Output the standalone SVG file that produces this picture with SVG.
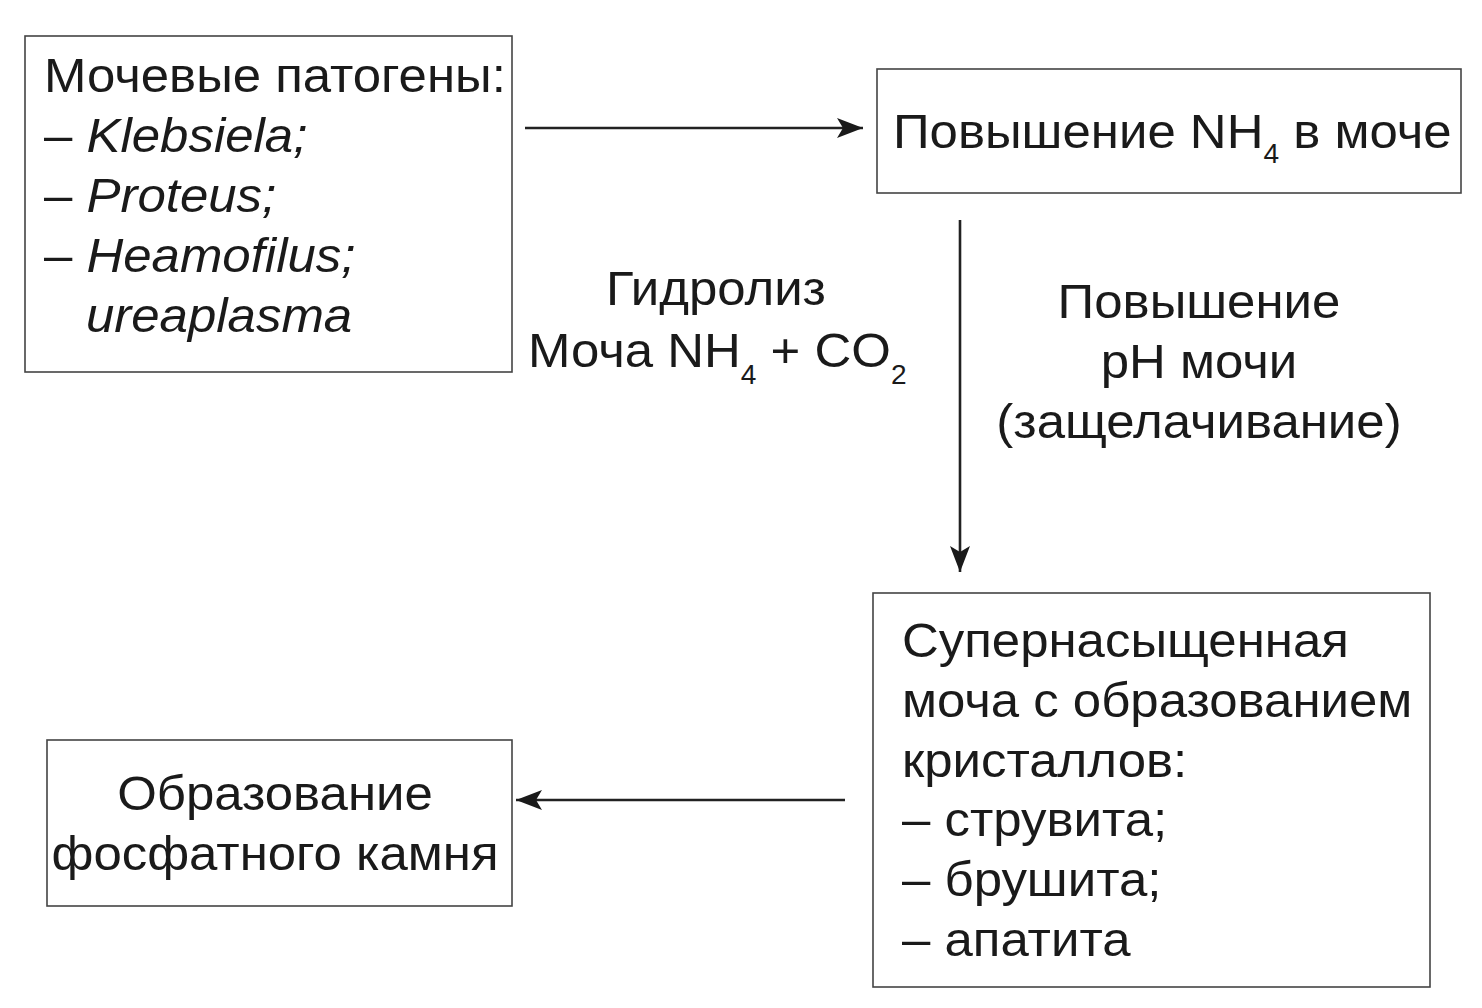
<svg xmlns="http://www.w3.org/2000/svg" width="1482" height="1008" viewBox="0 0 1482 1008">
<style>
.box{fill:#fff;stroke:#444;stroke-width:1.6}
.t{font-family:"Liberation Sans",Arial,sans-serif;font-size:49px;fill:#1a1a1a;transform:scaleX(1.04);transform-box:fill-box;transform-origin:0 0}
.m{transform-origin:center}
.i{font-style:italic}
.sub{font-size:27px}
.c{stroke:#222;stroke-width:2.6;fill:none}
</style>
<defs>
<marker id="ah" viewBox="0 0 26 20" refX="26" refY="10" markerWidth="26" markerHeight="20" markerUnits="userSpaceOnUse" orient="auto">
<path d="M0,0 L26,10 L0,20 L6,10 Z" fill="#1a1a1a"/>
</marker>
</defs>
<rect width="1482" height="1008" fill="#fff"/>
<g id="connectors">
<line class="c" x1="525" y1="128" x2="863" y2="128" marker-end="url(#ah)"/>
<line class="c" x1="960" y1="220" x2="960" y2="572" stroke="#555" stroke-width="2" marker-end="url(#ah)"/>
<line class="c" x1="845" y1="800" x2="516" y2="800" marker-end="url(#ah)"/>
</g>
<g id="pathogens">
<rect class="box" x="25" y="36" width="487" height="336"/>
<text class="t" x="44" y="92">Мочевые патогены:</text>
<text class="t" x="44" y="152">– <tspan class="i">Klebsiela;</tspan></text>
<text class="t" x="44" y="212">– <tspan class="i">Proteus;</tspan></text>
<text class="t" x="44" y="272">– <tspan class="i">Heamofilus;</tspan></text>
<text class="t i" x="86" y="332">ureaplasma</text>
</g>
<g id="nh4">
<rect class="box" x="877" y="69" width="584" height="124"/>
<text class="t" x="893" y="148">Повышение NH<tspan class="sub" dy="15">4</tspan><tspan dy="-15"> в моче</tspan></text>
</g>
<g id="hydrolysis">
<text class="t m" x="716" y="305" text-anchor="middle">Гидролиз</text>
<text class="t" x="528" y="367">Моча NH<tspan class="sub" dy="17">4</tspan><tspan dy="-17"> + CO</tspan><tspan class="sub" dy="17">2</tspan></text>
</g>
<g id="ph">
<text class="t m" x="1199" y="318" text-anchor="middle">Повышение</text>
<text class="t m" x="1199" y="378" text-anchor="middle">pH мочи</text>
<text class="t m" x="1199" y="438" text-anchor="middle">(защелачивание)</text>
</g>
<g id="supersaturated">
<rect class="box" x="873" y="593" width="557" height="394"/>
<text class="t" x="902" y="657">Супернасыщенная</text>
<text class="t" x="902" y="717">моча с образованием</text>
<text class="t" x="902" y="777">кристаллов:</text>
<text class="t" x="902" y="836">– струвита;</text>
<text class="t" x="902" y="896">– брушита;</text>
<text class="t" x="902" y="956">– апатита</text>
</g>
<g id="stone">
<rect class="box" x="47" y="740" width="465" height="166"/>
<text class="t m" x="275" y="810" text-anchor="middle">Образование</text>
<text class="t m" x="275" y="870" text-anchor="middle">фосфатного камня</text>
</g>
</svg>
